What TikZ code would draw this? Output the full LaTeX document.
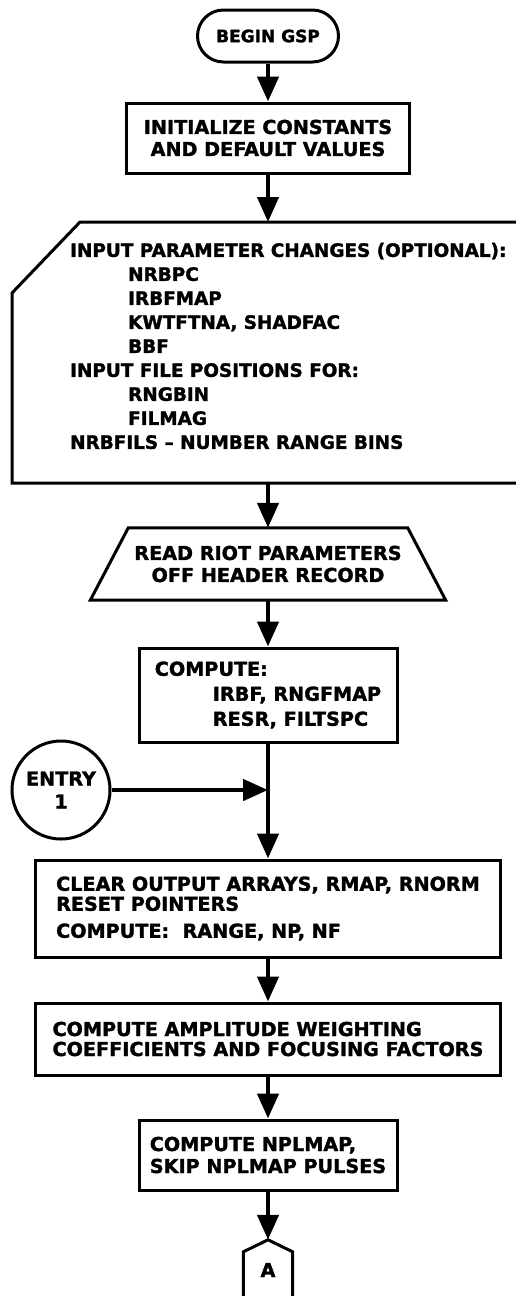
\documentclass[tikz,border=0pt]{standalone}
\usepackage{fontspec}
\setsansfont{DejaVu Sans}[BoldFeatures={FakeBold=1.6}]
\usetikzlibrary{calc,arrows.meta}

\newcommand{\gspfont}[1][21pt]{\fontsize{19.2pt}{#1}\selectfont\sffamily\bfseries}
\newcommand{\gspind}{\hspace*{58pt}}

\begin{document}
\begin{tikzpicture}[x=1pt,y=-1pt,
  gspbox/.style={draw, line width=3pt, inner sep=0pt, align=left},
  gspflow/.style={line width=4.5pt, -{Triangle[length=25pt,width=21pt]}},
  gspline/.style={line width=3pt}]
\useasboundingbox (0,0) rectangle (515,1296);
% terminal and first steps
\node[gspbox, align=center, rounded corners=26pt, minimum width=141pt, minimum height=52pt,
  font={\gspfont\fontsize{17pt}{20pt}\selectfont}] (begin) at (268,36) {BEGIN GSP};
\node[gspbox, align=center, minimum width=283pt, minimum height=70pt, font={\gspfont[22pt]}] (init) at (268,138)
  {INITIALIZE CONSTANTS\\AND DEFAULT VALUES};
% manual input
\draw[gspline] (520,222) -- (80,222) -- (12,293) -- (12,483) -- (520,483);
\coordinate (intop) at (268,222);
\coordinate (inbot) at (268,483);
\node[anchor=west, align=left, inner sep=0pt, font={\gspfont\fontsize{18.4pt}{24pt}\selectfont}] (input) at (70,346)
  {INPUT PARAMETER CHANGES (OPTIONAL):\\
   \gspind NRBPC\\
   \gspind IRBFMAP\\
   \gspind KWTFTNA, SHADFAC\\
   \gspind BBF\\
   INPUT FILE POSITIONS FOR:\\
   \gspind RNGBIN\\
   \gspind FILMAG\\
   NRBFILS -- NUMBER RANGE BINS};
% read header
\node[align=center, inner sep=0pt, minimum width=279pt, minimum height=72pt, font={\gspfont[22pt]}] (read) at (268,564)
  {READ RIOT PARAMETERS\\OFF HEADER RECORD};
\draw[gspline] (read.north west) -- (read.north east) -- ($(read.south east)+(38,0)$)
  -- ($(read.south west)+(-38,0)$) -- cycle;
\node[gspbox, minimum width=258pt, minimum height=94pt, font={\gspfont[25pt]}] (compute) at (268,695)
  {COMPUTE:\\ \gspind IRBF, RNGFMAP\\ \gspind RESR, FILTSPC};
% entry point
\node[draw, circle, line width=3pt, minimum size=98pt, inner sep=0pt, align=center, font={\gspfont[23pt]}] (entry) at (61,790)
  {ENTRY\\1};
\coordinate (join) at (268,790);
\node[gspbox, minimum width=465pt, minimum height=97pt, font={\gspfont[20pt]}] (clear) at (268,908.5)
  {CLEAR OUTPUT ARRAYS, RMAP, RNORM\\RESET POINTERS\\[7pt]COMPUTE:\ \ RANGE, NP, NF};
\node[gspbox, minimum width=465pt, minimum height=72pt, font={\gspfont[20pt]}] (ampl) at (268,1039)
  {COMPUTE AMPLITUDE WEIGHTING\\COEFFICIENTS AND FOCUSING FACTORS};
\node[gspbox, minimum width=258pt, minimum height=70pt, font={\gspfont[22pt]}] (npl) at (268,1155)
  {COMPUTE NPLMAP,\\SKIP NPLMAP PULSES};
% off-page connector
\node[inner sep=0pt, minimum width=49pt, minimum height=60pt, font=\gspfont] (conA) at (268,1270) {A};
\draw[gspline] (conA.south west) -- ($(conA.north west)+(0,12)$) -- (conA.north)
  -- ($(conA.north east)+(0,12)$) -- (conA.south east);
% flow
\draw[gspflow] (begin) -- (init);
\draw[gspflow] (init) -- (intop);
\draw[gspflow] (inbot) -- (read);
\draw[gspflow] (read) -- (compute);
\draw[gspflow] (compute) -- (clear);
\draw[gspflow] (entry) -- (join);
\draw[gspflow] (clear) -- (ampl);
\draw[gspflow] (ampl) -- (npl);
\draw[gspflow] (npl) -- (conA);
\end{tikzpicture}
\end{document}
